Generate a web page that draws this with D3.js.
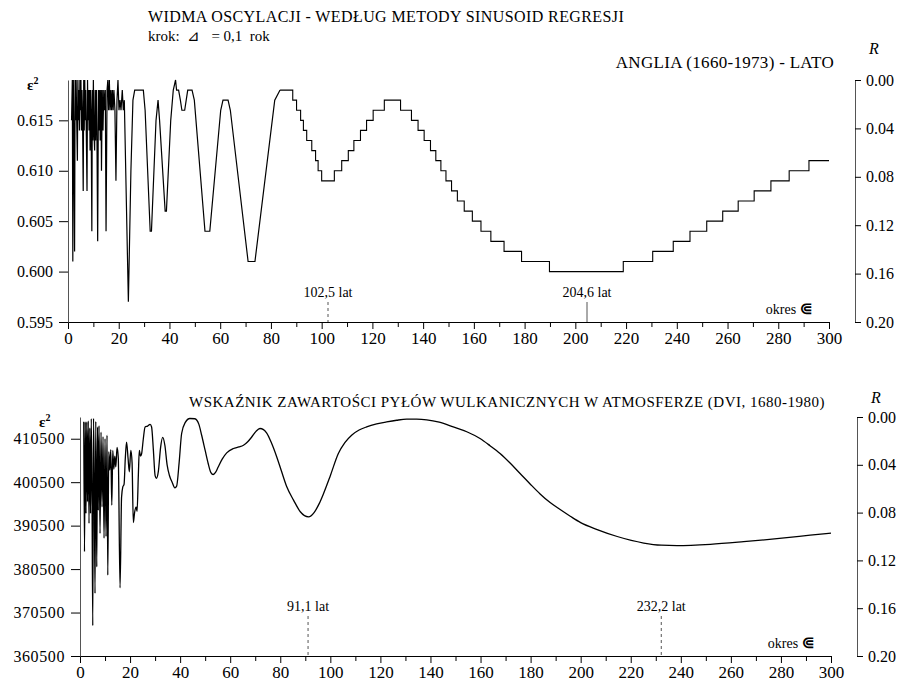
<!DOCTYPE html>
<html>
<head>
<meta charset="utf-8">
<script src="https://cdn.jsdelivr.net/npm/d3@7"></script>
<style>
body { margin: 0; background: #fff; }
svg text { font-family: "Liberation Serif", "Times New Roman", serif; fill: #000; }
</style>
</head>
<body>
<script>
// --- data ---
const periodTicks = d3.range(0, 301, 20);
const periodMinor = d3.range(10, 300, 20);

// top panel: England summer, eps^2 (left) / R (right)
const topTicks = [0.595, 0.600, 0.605, 0.610, 0.615];
const rTicks = [0, 0.04, 0.08, 0.12, 0.16, 0.20];

// short periods, joined straight
const topShort = [
  [1.4,.615],[1.7,.619],[1.9,.601],[2.1,.619],[2.3,.614],[2.6,.602],[2.8,.619],[3.0,.615],
  [3.2,.619],[3.5,.614],[3.7,.611],[3.9,.619],[4.1,.615],[4.3,.618],[4.5,.614],[4.7,.619],
  [4.9,.616],[5.1,.619],[5.3,.614],[5.5,.618],[5.7,.616],[6.0,.608],[6.2,.619],[6.4,.614],
  [6.6,.619],[6.8,.615],[7.0,.618],[7.2,.614],[7.5,.608],[7.7,.619],[7.9,.615],[8.1,.618],
  [8.3,.614],[8.5,.618],[8.7,.612],[8.9,.618],[9.1,.616],[9.4,.604],[9.6,.618],[9.8,.613],
  [10.0,.619],[10.2,.614],[10.5,.612],[10.7,.618],[10.9,.613],[11.2,.618],[11.4,.614],[11.7,.603],
  [12.0,.618],[12.2,.614],[12.5,.618],[12.7,.613],[13.0,.618],[13.2,.610],[13.5,.618],[13.8,.614],
  [14.1,.618],[14.4,.616],[14.7,.618],[15.0,.604],[15.4,.618],[15.7,.619],[16.0,.616],[16.3,.619],
  [16.6,.616],[16.9,.618],[17.2,.616],[17.5,.618],[17.8,.616],[18.1,.618],[18.5,.616],[18.9,.609],
  [19.3,.617],[19.7,.619],[20.1,.616],[20.5,.617],[20.9,.616],[21.4,.618],[21.8,.616],[22.2,.617],
  [22.6,.612],[23.8,.597],[24.8,.610],[25.6,.617],[26.3,.618],[29.7,.618],[30.4,.616],[32.4,.604],
  [32.9,.604],[34.7,.615],[35.5,.617],[36.1,.615],[38.3,.606],[38.8,.606],[40.5,.615],[41.5,.618],
  [42.4,.619],[42.8,.618],[43.6,.618],[44.3,.617],[44.9,.616],[46.0,.616],[46.6,.617],[47.2,.618],
  [48.9,.618],[49.8,.617],[54.0,.604],[55.9,.604],[60.2,.616],[61.1,.617],[63.1,.617],[64.0,.616],
  [71.0,.601],[73.7,.601],[81.5,.617],[83.6,.618]
];
// long periods: value rounded to 0.001, so it climbs in steps
const topSteps = [
  [83.6,.618],[88.6,.617],[90.1,.616],[91.7,.615],[92.8,.614],[94.1,.613],[96.1,.612],[97.6,.611],
  [98.6,.610],[100.0,.609],[105.0,.610],[107.9,.611],[110.5,.612],[112.7,.613],[115.3,.614],
  [117.7,.615],[120.3,.616],[124.7,.617],[131.1,.616],[135.4,.615],[138.0,.614],[140.4,.613],
  [142.9,.612],[145.0,.611],[147.0,.610],[149.0,.609],[151.2,.608],[153.5,.607],[156.2,.606],
  [159.4,.605],[162.8,.604],[166.7,.603],[171.9,.602],[178.8,.601],[189.8,.600],[218.9,.601],
  [230.5,.602],[238.6,.603],[245.2,.604],[251.8,.605],[258.1,.606],[264.2,.607],[270.5,.608],
  [277.1,.609],[284.3,.610],[292.1,.611],[300.0,.611]
];
const topMarks = [
  {period: 102.5, label: "102,5 lat", dash: "3,3"},
  {period: 204.6, label: "204,6 lat", dash: null}
];

// bottom panel: volcanic dust index
const dviTicks = [360500, 370500, 380500, 390500, 400500, 410500];
const dviCurve = [
  [1.5,414400],[1.8,384500],[2.1,414400],[2.4,393300],[2.7,414400],[3.0,396000],[3.3,414600],
  [3.6,391000],[3.9,413000],[4.2,393300],[4.5,415100],[4.8,398000],[5.1,367500],[5.4,415200],
  [5.7,401000],[6.0,374900],[6.3,414500],[6.7,381000],[7.0,413200],[7.3,394000],[7.6,413500],
  [8.0,388700],[8.4,412000],[8.8,394800],[9.2,411000],[9.6,387600],[10.0,410500],[10.4,388000],
  [10.8,411300],[11.1,379100],[11.5,407500],[11.9,403300],[12.3,408000],[12.7,395200],[13.1,407800],
  [13.5,403500],[13.9,406500],[14.3,404000],[14.8,408500],[15.3,406000],[16.0,376200],[16.6,397000],
  [17.1,399400],[17.6,400000],[18.1,406000],[18.6,409700],[19.2,406000],[19.7,402900],[20.3,407800],
  [20.8,405000],[21.3,391200],[21.8,393500],[22.4,394800],[22.8,393800],[23.3,402000],[23.7,407800],
  [24.2,406500],[24.6,407000],[25.3,410500],[26.0,413200],[27.0,413400],[28.0,413800],[28.6,413200],
  [29.3,408000],[30.0,402000],[30.5,401400],[31.3,403000],[32.2,408500],[33.0,410800],[33.9,409000],
  [34.8,404500],[35.7,402100],[36.8,400500],[37.9,399200],[38.6,399600],[39.6,405000],[40.6,411700],
  [42.0,414200],[43.9,415150],[45.9,415100],[47.5,413800],[48.6,411300],[50.0,407800],[51.2,404800],
  [52.3,402700],[53.2,402270],[54.2,402800],[55.2,404000],[56.8,405800],[58.6,407240],[61.3,408250],
  [63.5,408600],[65.3,409000],[67.0,409800],[68.6,410900],[70.3,412200],[71.9,412850],[73.3,412600],
  [74.6,411800],[76.5,409500],[78.6,406300],[80.5,403000],[82.6,399430],[85.3,396370],[88.0,393700],
  [91.3,392520],[93.5,393500],[95.5,395500],[97.3,397900],[100.0,402000],[103.2,407100],[105.8,409600],
  [108.5,411310],[111.5,412500],[114.5,413220],[118.5,413900],[122.5,414370],[126.5,414750],
  [130.5,414990],[134.5,415000],[138.5,414850],[143.5,414300],[149.1,413220],[154.5,412100],
  [159.8,410550],[163.8,408900],[167.8,407100],[171.8,404900],[175.8,402500],[179.8,400100],
  [183.8,397800],[187.8,395800],[191.8,394200],[196.0,392600],[200.0,391200],[206.6,389600],
  [214.6,388000],[225.2,386500],[232.2,386000],[238.5,385900],[251.8,386200],[265.1,386800],
  [278.4,387500],[291.7,388300],[300.0,388800]
];
const dviMarks = [
  {period: 91.1, label: "91,1 lat", dash: "3,3"},
  {period: 232.2, label: "232,2 lat", dash: "3,3"}
];

// --- drawing ---
const svg = d3.select("body").append("svg")
    .attr("width", 901)
    .attr("height", 688);

function panel(o) {
    let x = d3.scaleLinear().domain([0, 300]).range([o.left, o.right]);
    let y = d3.scaleLinear().domain(o.yDomain).range([o.bottom, o.top]);
    let r = d3.scaleLinear().domain([0, 0.2]).range([o.top, o.bottom]);

    // x axis, labelled every 20, short ticks between
    let gx = svg.append("g")
        .attr("transform", "translate(0," + o.bottom + ")")
        .call(d3.axisBottom(x).tickValues(periodTicks).tickSize(7).tickSizeOuter(0).tickPadding(3));
    svg.append("g")
        .attr("transform", "translate(0," + o.bottom + ")")
        .call(d3.axisBottom(x).tickValues(periodMinor).tickSize(5).tickFormat(""))
        .select(".domain").remove();
    gx.selectAll("text").attr("font-size", 17);

    // left axis
    let gy = svg.append("g")
        .attr("transform", "translate(" + o.left + ",0)")
        .call(d3.axisLeft(y).tickValues(o.yTicks).tickFormat(o.yFormat).tickSize(9).tickSizeOuter(0).tickPadding(6));
    gy.selectAll("text").attr("font-size", 16).attr("letter-spacing", o.yLetter);
    gy.select(".domain").attr("stroke", "#555");

    // right axis (R)
    let gr = svg.append("g")
        .attr("transform", "translate(" + o.rightAxis + ",0)")
        .call(d3.axisRight(r).tickValues(rTicks).tickFormat(d3.format(".2f")).tickSize(6).tickSizeOuter(0).tickPadding(5));
    gr.selectAll("text").attr("font-size", 16);
    gr.select(".domain").attr("stroke", "#555");

    svg.selectAll("g").attr("font-family", null);

    svg.append("text")
        .attr("x", o.rightAxis + 14).attr("y", o.top - o.rGap)
        .attr("font-size", 16).attr("font-style", "italic")
        .text("R");

    svg.append("text")
        .attr("x", o.left - 41).attr("y", o.top + 10)
        .attr("font-size", 15).attr("font-weight", "bold")
        .html("ε<tspan font-size='10' dy='-6'>2</tspan>");

    // period markers
    o.marks.forEach(m => {
        svg.append("line")
            .attr("x1", x(m.period)).attr("x2", x(m.period))
            .attr("y1", o.bottom - o.markLen).attr("y2", o.bottom)
            .attr("stroke", "#555").attr("stroke-width", 1)
            .attr("stroke-dasharray", m.dash);
        svg.append("text")
            .attr("x", x(m.period)).attr("y", o.bottom - o.markLen - 5)
            .attr("text-anchor", "middle").attr("font-size", 14)
            .text(m.label);
    });

    let ok = svg.append("text")
        .attr("x", o.right - 16).attr("y", o.bottom - 8)
        .attr("text-anchor", "end").attr("font-size", 14);
    ok.append("tspan").text("okres ");
    ok.append("tspan").attr("font-family", "DejaVu Sans").attr("font-weight", "bold").attr("font-size", 16).text("⋐");

    return {x, y};
}

// top panel
let p1 = panel({
    left: 68, right: 829, top: 80, bottom: 322, rightAxis: 855,
    yDomain: [0.595, 0.619], yTicks: topTicks, yFormat: d3.format(".3f"), yLetter: 0,
    marks: topMarks, markLen: 20, rGap: 26
});

svg.append("path")
    .datum(topShort)
    .attr("fill", "none").attr("stroke", "#000").attr("stroke-width", 1.2)
    .attr("d", d3.line().x(d => p1.x(d[0])).y(d => p1.y(d[1])));

svg.append("path")
    .datum(topSteps)
    .attr("fill", "none").attr("stroke", "#000").attr("stroke-width", 1.1)
    .attr("d", d3.line().curve(d3.curveStepAfter).x(d => p1.x(d[0])).y(d => p1.y(d[1])));

svg.append("text")
    .attr("x", 148).attr("y", 22).attr("font-size", 16).attr("letter-spacing", 0.4)
    .text("WIDMA OSCYLACJI - WEDŁUG METODY SINUSOID REGRESJI");
svg.append("text")
    .attr("x", 148).attr("y", 41).attr("font-size", 15).attr("xml:space", "preserve")
    .text("krok:  ⊿   = 0,1  rok");
svg.append("text")
    .attr("x", 834).attr("y", 68).attr("text-anchor", "end").attr("font-size", 17).attr("letter-spacing", 0.3)
    .text("ANGLIA (1660-1973) - LATO");

// bottom panel
let p2 = panel({
    left: 80, right: 831, top: 417, bottom: 656, rightAxis: 857,
    yDomain: [360500, 415500], yTicks: dviTicks, yFormat: d3.format("d"), yLetter: 0.6,
    marks: dviMarks, markLen: 40, rGap: 14
});

svg.append("path")
    .datum(dviCurve)
    .attr("fill", "none").attr("stroke", "#000").attr("stroke-width", 1.3)
    .attr("d", d3.line().curve(d3.curveMonotoneX).x(d => p2.x(d[0])).y(d => p2.y(d[1])));

svg.append("text")
    .attr("x", 825).attr("y", 407).attr("text-anchor", "end").attr("font-size", 15).attr("letter-spacing", 0.5)
    .text("WSKAŹNIK ZAWARTOŚCI PYŁÓW WULKANICZNYCH W ATMOSFERZE (DVI, 1680-1980)");
</script>
</body>
</html>
